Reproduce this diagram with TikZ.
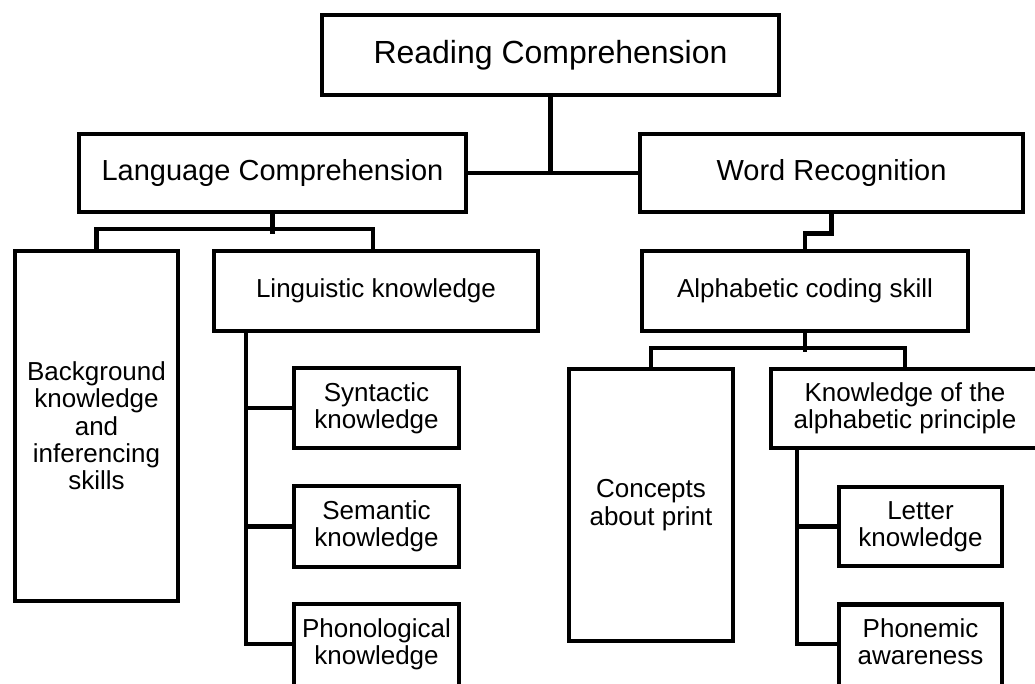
\documentclass[tikz,border=0pt]{standalone}
\usepackage{fontspec}
\setmainfont{Liberation Sans}
\tikzset{
  blk/.style={draw, line width=4.5pt, inner sep=0pt, align=center},
  txtbig/.style={font=\fontsize{32}{34}\selectfont},
  txtmid/.style={font=\fontsize{29}{31}\selectfont},
  txtsm/.style={font=\fontsize{26}{27.3}\selectfont},
  cutoff/.style={minimum height=92pt, text depth=17.5pt},
  bus/.style={line width=4.5pt}
}
\begin{document}
\begin{tikzpicture}[x=1pt, y=-1pt]
\clip (0,0) rectangle (1035,684);
\fill[white] (0,0) rectangle (1035,684);
% Top level
\node[blk, txtbig, minimum width=457pt, minimum height=80pt] (rc) at (550.5,55) {Reading Comprehension};
\node[blk, txtmid, minimum width=387pt, minimum height=78pt] (lc) at (272.5,173) {Language Comprehension};
\node[blk, txtmid, minimum width=383pt, minimum height=78pt] (wr) at (831.5,173) {Word Recognition};
% Language side
\node[blk, txtsm, minimum width=163pt, minimum height=350pt] (bg) at (96.5,426) {Background\\knowledge\\and\\inferencing\\skills};
\node[blk, txtsm, minimum width=324pt, minimum height=80pt] (lk) at (376,291) {Linguistic knowledge};
\node[blk, txtsm, minimum width=165pt, minimum height=80pt] (syn) at (376.5,408) {Syntactic\\knowledge};
\node[blk, txtsm, minimum width=165pt, minimum height=81pt] (sem) at (376.5,526.5) {Semantic\\knowledge};
\node[blk, txtsm, cutoff, minimum width=165pt] (pho) at (376.5,650) {Phonological\\knowledge};
% Word side
\node[blk, txtsm, minimum width=326pt, minimum height=80pt] (ac) at (805,291) {Alphabetic coding skill};
\node[blk, txtsm, minimum width=164pt, minimum height=272pt] (cp) at (651,505) {Concepts\\about print};
\node[blk, txtsm, minimum width=268pt, minimum height=79pt] (kap) at (905,408.5) {Knowledge of the\\alphabetic principle};
\node[blk, txtsm, minimum width=163pt, minimum height=79pt] (let) at (920.5,526.5) {Letter\\knowledge};
\node[blk, txtsm, cutoff, minimum width=163pt] (phm) at (920.5,650.5) {Phonemic\\awareness};
% Links
\draw[bus] (lc.east) -- (wr.west);
\draw[bus] (rc.south) -- (rc.south |- lc.east);
\draw[bus] (lc.south) -- ++(0,19.5);
\draw[bus] (bg.north) -- ++(0,-19.5) -| ([xshift=-3pt]lk.north);
\draw[bus] (wr.south) -- ++(0,19.5) -| (ac.north);
\draw[bus] (ac.south) -- ++(0,19);
\draw[bus] (cp.north) -- ++(0,-19) -| (kap.north);
% Buses
\coordinate (lkbus) at (246,331);
\draw[bus] (lkbus) |- (syn.west);
\draw[bus] (lkbus) |- (sem.west);
\draw[bus] (lkbus) -- (246,644) -- (pho.west |- 0,644);
\coordinate (kapbus) at (797,448.5);
\draw[bus] (kapbus) |- (let.west);
\draw[bus] (kapbus) -- (797,644) -- (phm.west |- 0,644);
\end{tikzpicture}
\end{document}
